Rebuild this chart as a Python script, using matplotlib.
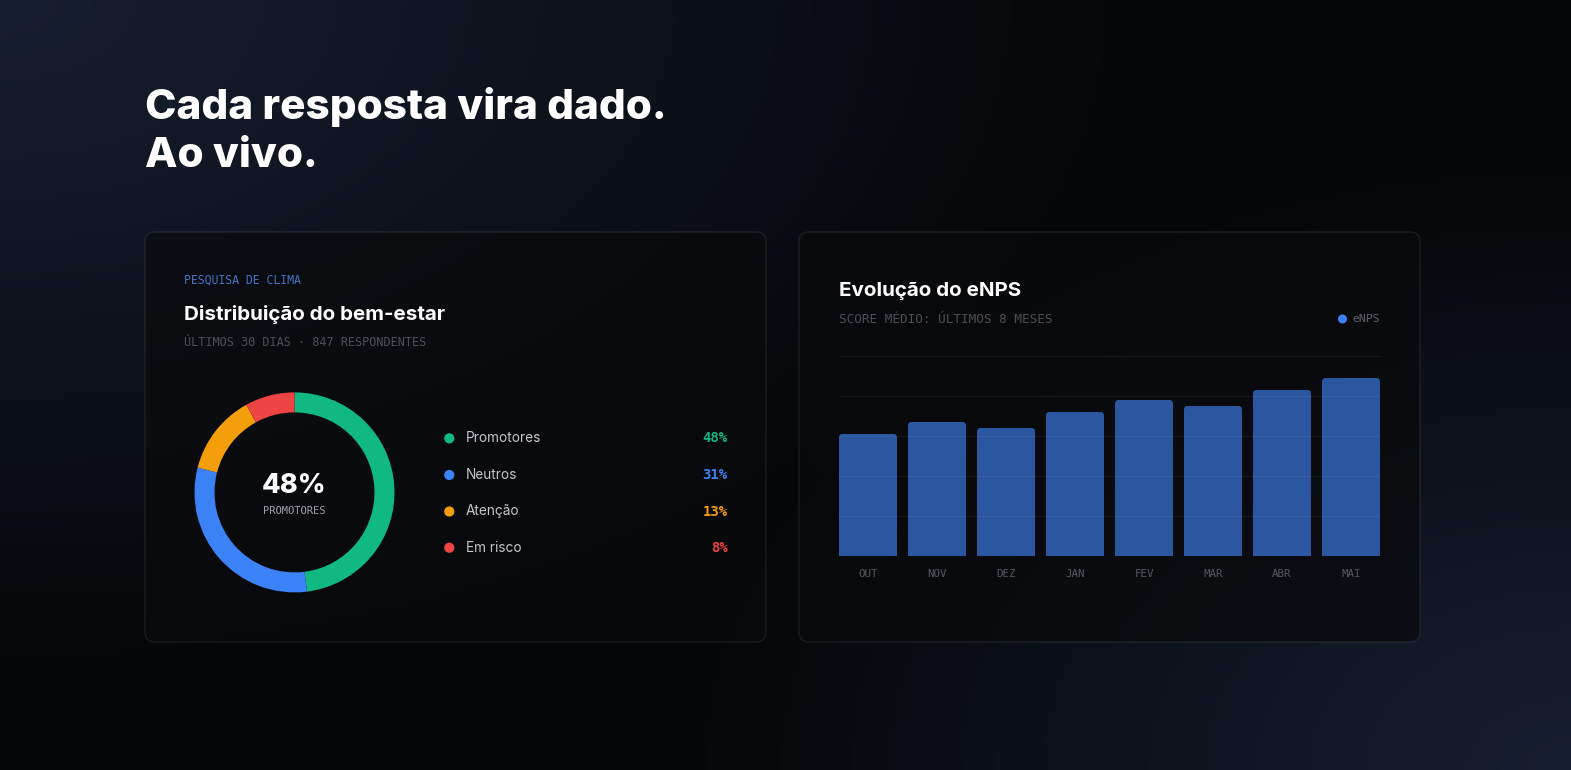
import numpy as np
import matplotlib
matplotlib.use("Agg")
from matplotlib import pyplot as plt
from matplotlib.patches import FancyBboxPatch, Circle

# dados
segmentos = ["Promotores", "Neutros", "Atenção", "Em risco"]
percentuais = [48, 31, 13, 8]
cores_seg = ["#10b981", "#3b82f6", "#f59e0b", "#ef4444"]

meses = ["OUT", "NOV", "DEZ", "JAN", "FEV", "MAR", "ABR", "MAI"]
enps = [61, 67, 64, 72, 78, 75, 83, 89]

W, H = 1571, 770
SANS = ["Inter", "DejaVu Sans"]
MONO = ["DejaVu Sans Mono"]

fig = plt.figure(figsize=(W / 100, H / 100), dpi=100)

# fundo com gradiente
yy, xx = np.mgrid[0:H, 0:W].astype(float)
base = np.array([5, 6, 8]) / 255
glow = np.array([22, 31, 48]) / 255
w1 = np.clip(1 - np.sqrt((xx / 1150) ** 2 + (yy / 680) ** 2), 0, 1)
w2 = np.clip(1 - np.sqrt(((W - xx) / 900) ** 2 + ((H - yy) / 620) ** 2), 0, 1)
w = np.clip(w1 + w2, 0, 1)[..., None]
img = base + (glow - base) * w

bg = fig.add_axes([0, 0, 1, 1])
bg.imshow(img, extent=(0, W, H, 0), aspect="auto", zorder=0)
bg.set_xlim(0, W)
bg.set_ylim(H, 0)
bg.axis("off")

# título
bg.text(145, 119, "Cada resposta vira dado.", color="white", fontsize=30.4,
        fontweight="heavy", family=SANS, va="baseline")
bg.text(145, 167, "Ao vivo.", color="white", fontsize=30.4,
        fontweight="heavy", family=SANS, va="baseline")

# cartões
for x0 in (145, 799):
    card = FancyBboxPatch((x0, 232), 621, 410, boxstyle="round,pad=0,rounding_size=10",
                          facecolor=(9 / 255, 10 / 255, 12 / 255, 0.7),
                          edgecolor=(1, 1, 1, 0.08), lw=1, zorder=1)
    bg.add_patch(card)

# cartão esquerdo: textos
bg.text(184, 280.5, "PESQUISA DE CLIMA", color="#4472c4", fontsize=8.3,
        family=MONO, va="center", zorder=3)
bg.text(184, 320.5, "Distribuição do bem-estar", color="white", fontsize=14.8,
        fontweight="bold", family=SANS, va="baseline", zorder=3)
bg.text(184, 342.5, "ÚLTIMOS 30 DIAS · 847 RESPONDENTES", color="#4b4f57",
        fontsize=8.5, family=MONO, va="center", zorder=3)

# donut
cx, cy, R = 294.5, 492.4, 100
ax_d = fig.add_axes([(cx - R) / W, (H - cy - R) / H, 2 * R / W, 2 * R / H])
ax_d.pie(percentuais, colors=cores_seg, startangle=90, counterclock=False, radius=1,
         wedgeprops=dict(width=0.2, edgecolor="none"))
ax_d.set_xlim(-1, 1)
ax_d.set_ylim(-1, 1)
ax_d.axis("off")
bg.text(cx, 493, f"{percentuais[0]}%", color="white", fontsize=19.5, fontweight="heavy",
        family=SANS, ha="center", va="baseline", zorder=3)
bg.text(cx, 510.5, "PROMOTORES", color="#9ca0a8", fontsize=7.5, family=MONO,
        ha="center", va="center", zorder=3)

# legenda
ys = [438.3, 475, 511.5, 547.7]
for nome, p, c, y in zip(segmentos, percentuais, cores_seg, ys):
    bg.add_patch(Circle((449.3, y), 4.4, color=c, zorder=3))
    bg.text(466, y, nome, color="#c3c6cb", fontsize=9.8, family=SANS, va="center", zorder=3)
    bg.text(727.5, y, f"{p}%", color=c, fontsize=10, fontweight="bold", family=MONO,
            ha="right", va="center", zorder=3)

# cartão direito: textos
bg.text(839, 295.7, "Evolução do eNPS", color="white", fontsize=14.8,
        fontweight="bold", family=SANS, va="baseline", zorder=3)
bg.text(839, 319.3, "SCORE MÉDIO: ÚLTIMOS 8 MESES", color="#4b4f57", fontsize=9.1,
        family=MONO, va="center", zorder=3)
bg.add_patch(Circle((1342.5, 319), 3.8, color="#3b82f6", zorder=3))
bg.text(1380, 319.3, "eNPS", color="#5c6068", fontsize=8.2, family=MONO,
        ha="right", va="center", zorder=3)

# barras
bx0, bx1 = 839, 1380
by_base, by_top = 555.5, 356
ymax = 100.6
ph = (by_base - by_top) * ymax / 100
ax_b = fig.add_axes([bx0 / W, (H - by_base) / H, (bx1 - bx0) / W, ph / H])
ax_b.patch.set_alpha(0)
bw = 58 / 69
x = np.arange(len(meses))
barras = ax_b.bar(x, enps, width=bw, color="#2a579f", zorder=1)
ax_b.set_xlim(-bw / 2, len(meses) - 1 + bw / 2)
ax_b.set_ylim(0, ymax)

# cantos arredondados no topo das barras
px_x = (bx1 - bx0) / (len(meses) - 1 + bw)
px_y = ph / ymax
rx = 4 / px_x
asp = (4 / px_y) / rx
for r in barras:
    clip = FancyBboxPatch((r.get_x(), -10), r.get_width(), r.get_height() + 10,
                          boxstyle=f"round,pad=0,rounding_size={rx}",
                          mutation_aspect=asp, transform=ax_b.transData)
    r.set_clip_path(clip)

ax_b.set_yticks([0, 20, 40, 60, 80, 100])
ax_b.set_yticklabels([])
ax_b.grid(axis="y", color="white", alpha=0.06, lw=0.8)
ax_b.set_axisbelow(False)
ax_b.set_xticks(x)
ax_b.set_xticklabels(meses, color="#55595f", fontsize=7.8, family=MONO)
ax_b.tick_params(length=0, pad=10)
for s in ax_b.spines.values():
    s.set_visible(False)

fig.savefig("out.png", dpi=100)
